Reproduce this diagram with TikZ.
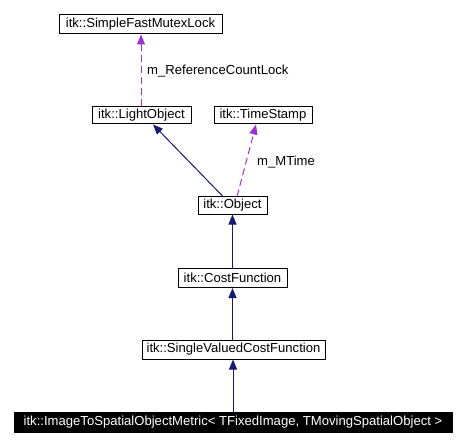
\documentclass[tikz,border=0pt]{standalone}
\usepackage{fontspec}
\setmainfont{Liberation Sans}
\usetikzlibrary{arrows.meta,calc}
\definecolor{navy}{HTML}{191970}
\definecolor{orchid}{HTML}{9A32CD}
\begin{document}
\begin{tikzpicture}[x=1pt,y=-1pt,
  cls/.style={draw=black, line width=1pt, inner sep=0pt, font=\fontsize{13.1}{15}\selectfont, anchor=center},
  inh/.style={draw=navy, line width=1pt, -{Triangle[length=10pt,width=8pt,fill=navy]}},
  use/.style={draw=orchid, line width=1pt, dash pattern=on 7pt off 4pt, -{Triangle[length=10pt,width=8pt,fill=orchid]}},
  lbl/.style={font=\fontsize{13.1}{15}\selectfont, anchor=west, inner sep=0pt}]
\useasboundingbox (0,0) rectangle (465,446);
\node[cls, minimum width=163pt, minimum height=19pt] (sfml) at (140.5,24.5) {itk::SimpleFastMutexLock};
\node[cls, minimum width=99pt, minimum height=17pt] (lo) at (141.5,115.5) {itk::LightObject};
\node[cls, minimum width=98pt, minimum height=17pt] (ts) at (263,115.5) {itk::TimeStamp};
\node[cls, minimum width=69pt, minimum height=17pt] (obj) at (232.5,205.5) {itk::Object};
\node[cls, minimum width=109pt, minimum height=19pt] (cf) at (232.5,278) {itk::CostFunction};
\node[cls, minimum width=183pt, minimum height=19pt] (svcf) at (233.5,349.5) {itk::SingleValuedCostFunction};
\node[cls, fill=black, text=white, minimum width=438pt, minimum height=20pt] (m) at (233,422) {itk::ImageToSpatialObjectMetric< TFixedImage, TMovingSpatialObject >};
% usage (dashed) relations
\draw[use] ($(lo.north)+(-0.5,0)$) -- ($(sfml.south)+(0.5,0)$);
\draw[use] ($(obj.north)+(4.5,0)$) -- ($(ts.south)+(-7,0)$);
% inheritance
\draw[inh] ($(obj.north)+(-9.5,0)$) -- ($(lo.south)+(11.5,0)$);
\draw[inh] (cf.north) -- (obj.south);
\draw[inh] ($(svcf.north)+(-1,0)$) -- ($(cf.south)+(0,0)$);
\draw[inh] ($(m.north)+(0,0)$) -- ($(svcf.south)+(-0.5,0)$);
% labels
\node[lbl] (l1) at (147,71) {m\_ReferenceCountLock};
\node[lbl] (l2) at (257,162) {m\_MTime};
\end{tikzpicture}
\end{document}
